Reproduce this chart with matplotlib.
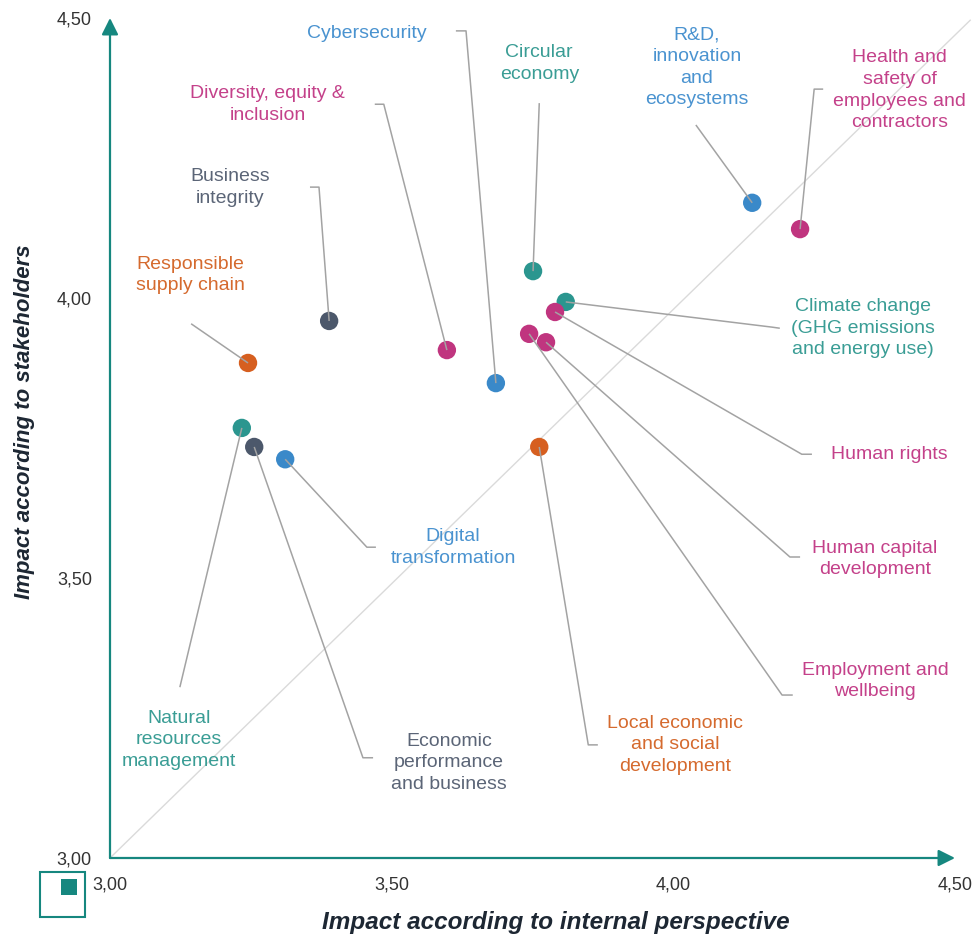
import matplotlib
matplotlib.use("Agg")
import matplotlib.pyplot as plt
from matplotlib.patches import Rectangle

# ---------------- data ----------------
topics = [
    "Cybersecurity",
    "Circular\neconomy",
    "R&D,\ninnovation\nand\necosystems",
    "Health and\nsafety of\nemployees and\ncontractors",
    "Diversity, equity &\ninclusion",
    "Business\nintegrity",
    "Responsible\nsupply chain",
    "Natural\nresources\nmanagement",
    "Economic\nperformance\nand business",
    "Digital\ntransformation",
    "Local economic\nand social\ndevelopment",
    "Climate change\n(GHG emissions\nand energy use)",
    "Human rights",
    "Human capital\ndevelopment",
    "Employment and\nwellbeing",
]
internal = [3.685, 3.751, 4.140, 4.225, 3.598, 3.389, 3.245, 3.234, 3.256,
            3.311, 3.762, 3.809, 3.790, 3.774, 3.744]
stakeholders = [3.848, 4.048, 4.170, 4.123, 3.907, 3.959, 3.884, 3.768, 3.734,
                3.712, 3.734, 3.993, 3.975, 3.921, 3.936]
groups = ["blue", "teal", "blue", "magenta", "magenta", "gray", "orange", "teal",
          "gray", "blue", "orange", "teal", "magenta", "magenta", "magenta"]

x_ticks = [3.0, 3.5, 4.0, 4.5]
x_tick_labels = ["3,00", "3,50", "4,00", "4,50"]
y_ticks = [3.0, 3.5, 4.0, 4.5]
y_tick_labels = ["3,00", "3,50", "4,00", "4,50"]

# ---------------- styles / layout ----------------
point_colors = {"teal": "#2b968f", "blue": "#3a89c9", "magenta": "#c0357f",
                "orange": "#d65f20", "gray": "#4c586b"}
text_colors = {"teal": "#3a9d95", "blue": "#4a93d0", "magenta": "#c4418a",
               "orange": "#d56a2e", "gray": "#5b6577"}
AXIS = "#16877f"
DARK = "#1d2733"

# label centre (data coords) and leader path (label end -> elbow), then to the point
label_pos = [
    (3.456, 4.473), (3.762, 4.419), (4.042, 4.412), (4.402, 4.371),
    (3.280, 4.345), (3.213, 4.197), (3.142, 4.041), (3.122, 3.211),
    (3.602, 3.170), (3.609, 3.555), (4.003, 3.202), (4.337, 3.946),
    (4.383, 3.721), (4.358, 3.534), (4.358, 3.316),
]
leader_paths = [
    [(3.614, 4.477), (3.632, 4.477)],
    [(3.762, 4.348)],
    [(4.040, 4.309)],
    [(4.266, 4.373), (4.250, 4.373)],
    [(3.470, 4.346), (3.486, 4.346)],
    [(3.355, 4.198), (3.371, 4.198)],
    [(3.144, 3.954)],
    [(3.124, 3.305)],
    [(3.467, 3.179), (3.449, 3.179)],
    [(3.472, 3.555), (3.456, 3.555)],
    [(3.866, 3.202), (3.849, 3.202)],
    [(4.189, 3.946), (4.175, 3.948)],
    [(4.246, 3.721), (4.228, 3.721)],
    [(4.225, 3.5375), (4.207, 3.5375)],
    [(4.212, 3.291), (4.193, 3.291)],
]

plt.rcParams["font.family"] = ["Liberation Sans", "DejaVu Sans"]

W, H = 977, 938
fig = plt.figure(figsize=(W / 100, H / 100), dpi=100)
ax = fig.add_axes([110 / W, 1 - 858 / H, 845 / W, 840 / H])
ax.set_xlim(3.0, 4.5)
ax.set_ylim(3.0, 4.5)
for s in ax.spines.values():
    s.set_visible(False)

# diagonal reference line
ax.plot([3.0, 4.527], [3.0, 4.496], color="#dadada", lw=1.0, zorder=1, clip_on=False)

# axes arrows
arrow = dict(arrowstyle="-|>,head_length=0.5,head_width=0.25", color=AXIS, lw=1.6,
             shrinkA=0, shrinkB=0, mutation_scale=20)
ax.annotate("", xy=(0, 1), xytext=(0, 0), xycoords="axes fraction",
            textcoords="axes fraction", arrowprops=arrow, annotation_clip=False)
ax.annotate("", xy=(1, 0), xytext=(0, 0), xycoords="axes fraction",
            textcoords="axes fraction", arrowprops=arrow, annotation_clip=False)

# ticks
ax.set_xticks(x_ticks)
ax.set_xticklabels(x_tick_labels)
ax.set_yticks(y_ticks)
ax.set_yticklabels(y_tick_labels)
ax.tick_params(axis="both", length=0, labelsize=13, labelcolor="#333333")
ax.tick_params(axis="x", pad=13)
ax.tick_params(axis="y", pad=13)

# points
ax.scatter(internal, stakeholders, s=175, c=[point_colors[g] for g in groups],
           edgecolors="none", zorder=3, clip_on=False)

# leader lines and labels
for i, name in enumerate(topics):
    path = leader_paths[i] + [(internal[i], stakeholders[i])]
    xs = [p[0] for p in path]
    ys = [p[1] for p in path]
    ax.plot(xs, ys, color="#a3a3a3", lw=1.1, zorder=4, clip_on=False,
            solid_capstyle="butt")
    lx, ly = label_pos[i]
    ax.text(lx, ly, name, ha="center", va="center", multialignment="center",
            fontsize=14, linespacing=1.36, color=text_colors[groups[i]],
            zorder=5, clip_on=False)

# axis titles
fig.text(556 / W, 1 - 922 / H, "Impact according to internal perspective",
         ha="center", va="center", fontsize=17.5, fontweight="bold",
         fontstyle="italic", color=DARK)
fig.text(25 / W, 1 - 422 / H, "Impact according to stakeholders",
         ha="center", va="center", rotation=90, fontsize=16, fontweight="bold",
         fontstyle="italic", color=DARK)

# small legend icon bottom-left
fig.patches.append(Rectangle((40 / W, 1 - 917 / H), 45 / W, 45 / H,
                             transform=fig.transFigure, fill=False,
                             edgecolor=AXIS, lw=1.5))
fig.patches.append(Rectangle((61 / W, 1 - 895 / H), 16 / W, 16 / H,
                             transform=fig.transFigure, facecolor=AXIS,
                             edgecolor="none"))

fig.savefig("out.png", dpi=100, facecolor="white")
